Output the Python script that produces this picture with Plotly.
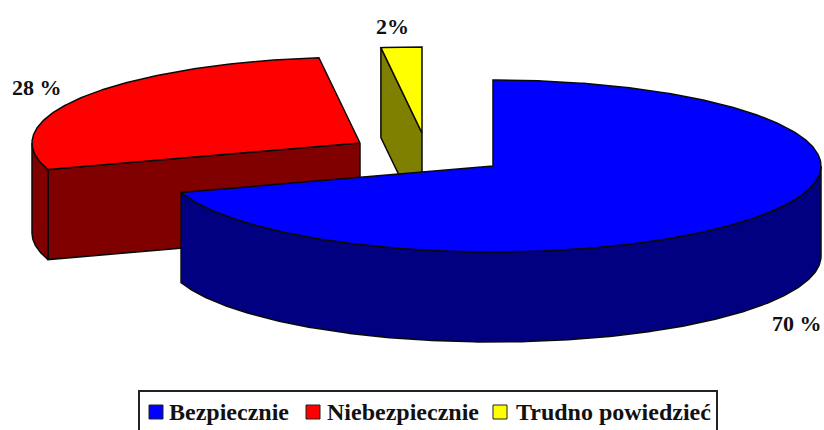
import numpy as np
import plotly.graph_objects as go

categories = ["Bezpiecznie", "Niebezpiecznie", "Trudno powiedzieć"]
values = [70, 28, 2]
value_labels = ["70 %", "28 %", "2%"]
top_colors = ["#0000FF", "#FF0000", "#FFFF00"]
side_colors = ["#000080", "#800000", "#808000"]

# layout of the exploded 3D pie, in pixels of the 824x430 canvas
apex_x = [493, 360, 422]
apex_y = [166, 143, 133]
RX, RY, DEPTH = 328, 86, 90
label_xy = [(797, 323), (37, 87), (392, 26)]
draw_order = [1, 2, 0]
OUTLINE = "#0a0a0a"

# key box placement, in the same pixels
key_box = (139, 391, 717, 431)
key_swatch_x = [149, 306, 493]
key_text_x = [167, 325, 514]
key_mid_y = 412
SWATCH = 14


def rim(cx, cy, a0, a1):
    t = np.radians(np.linspace(a0, a1, max(int(abs(a1 - a0) * 2), 2)))
    return cx + RX * np.sin(t), cy - RY * np.cos(t)


starts = np.cumsum([0] + values[:-1]) * 3.6
ends = np.cumsum(values) * 3.6

fig = go.Figure()


def poly(xs, ys, fill, line, width, name):
    fig.add_trace(go.Scatter(x=list(xs) + [xs[0]], y=list(ys) + [ys[0]], mode="lines", name=name,
                             fill="toself", fillcolor=fill,
                             line=dict(color=line, width=width),
                             showlegend=False, hoverinfo="skip"))


for i in draw_order:
    cx, cy, a0, a1 = apex_x[i], apex_y[i], starts[i], ends[i]
    # radial face seen from the front
    if a0 >= 180:
        rx, ry = rim(cx, cy, a0, a0)
        xs = [cx, rx[0], rx[0], cx]
        ys = [cy, ry[0], ry[0] + DEPTH, cy + DEPTH]
        poly(xs, ys, side_colors[i], OUTLINE, 1.5, categories[i])
    # outer wall: the front half of the rim
    lo, hi = max(a0, 90), min(a1, 270)
    if lo < hi:
        ox, oy = rim(cx, cy, lo, hi)
        xs = np.concatenate([ox, ox[::-1]])
        ys = np.concatenate([oy, oy[::-1] + DEPTH])
        poly(xs, ys, side_colors[i], OUTLINE, 1.5, categories[i])
    # top surface
    tx, ty = rim(cx, cy, a0, a1)
    poly(np.concatenate([[cx], tx]), np.concatenate([[cy], ty]), top_colors[i], OUTLINE, 1.5, categories[i])

for text, (x, y) in zip(value_labels, label_xy):
    fig.add_annotation(x=x, y=y, text=f"<b>{text}</b>", showarrow=False,
                       font=dict(family="Liberation Serif", size=22, color="#111111"))

# key
fig.add_shape(type="rect", x0=key_box[0], y0=key_box[1], x1=key_box[2], y1=key_box[3],
              line=dict(color="#222222", width=2), fillcolor="white", layer="below")
for name, color, sx, tx in zip(categories, top_colors, key_swatch_x, key_text_x):
    fig.add_shape(type="rect", x0=sx, x1=sx + SWATCH, y0=key_mid_y - SWATCH / 2, y1=key_mid_y + SWATCH / 2,
                  line=dict(color="#222222", width=1), fillcolor=color)
    fig.add_annotation(x=tx, y=key_mid_y, text=f"<b>{name}</b>", showarrow=False, xanchor="left",
                       font=dict(family="Liberation Serif", size=24, color="#111111"))

fig.update_layout(
    width=824, height=430, autosize=False,
    margin=dict(l=0, r=0, t=0, b=0),
    paper_bgcolor="white", plot_bgcolor="white",
    xaxis=dict(range=[0, 824], visible=False, fixedrange=True),
    yaxis=dict(range=[430, 0], visible=False, fixedrange=True),
    showlegend=False,
    hovermode=False,
)

fig.write_html("out.html", config={"displayModeBar": False},
               post_script="document.body.style.margin='0';document.documentElement.style.overflow='hidden';")
